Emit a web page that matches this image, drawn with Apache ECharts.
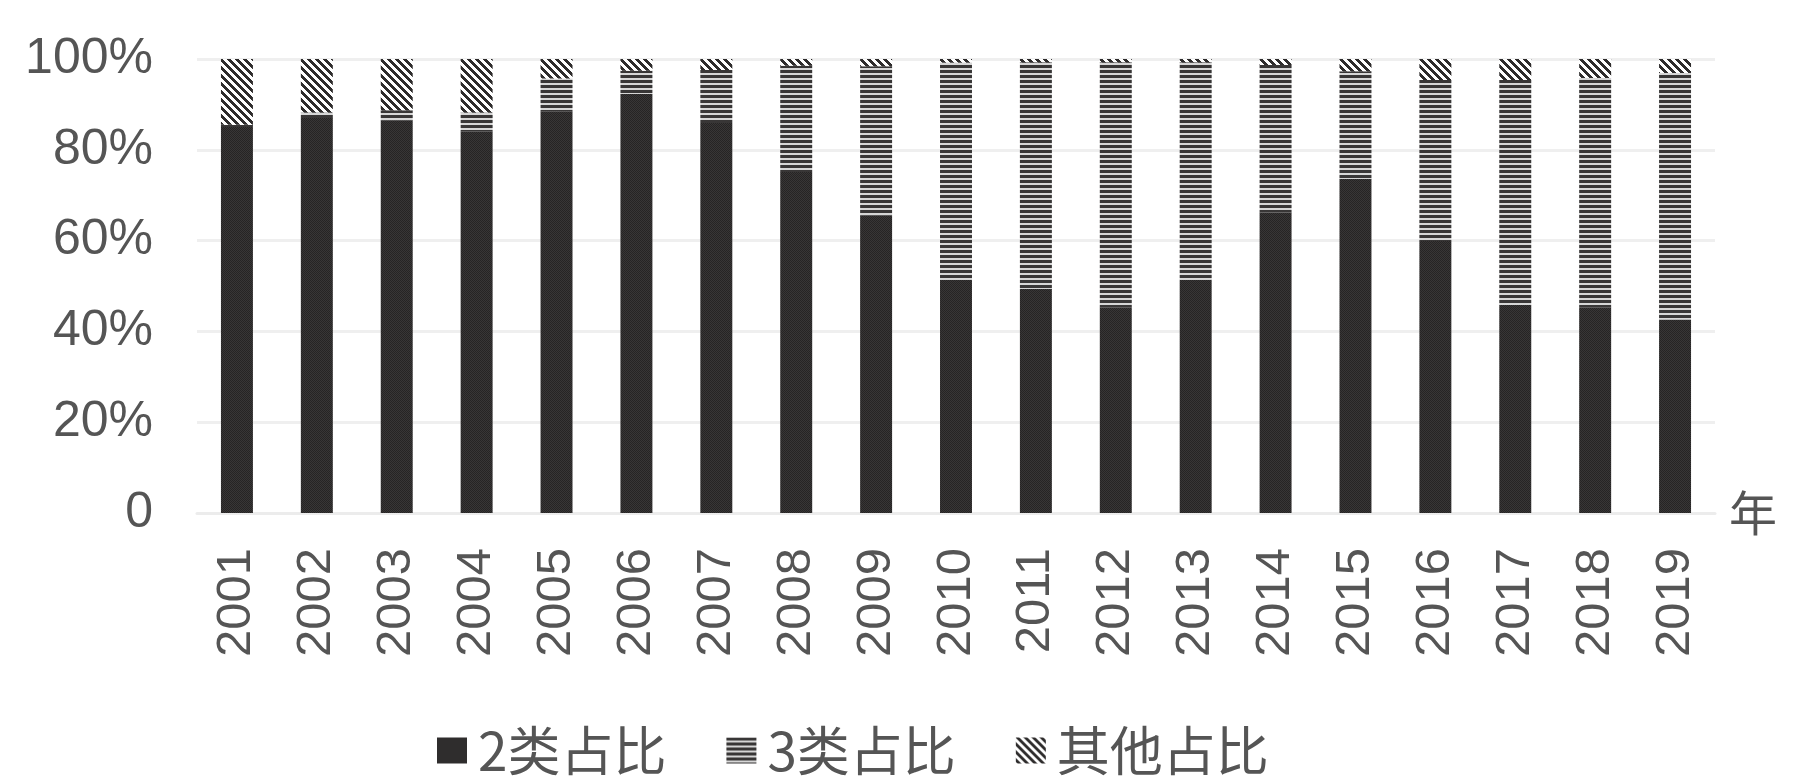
<!DOCTYPE html>
<html>
 <head>
  <meta charset="utf-8">
  <title>2类 3类 其他 占比</title>
  <script src="https://cdn.jsdelivr.net/npm/echarts@6/dist/echarts.min.js"></script>
  <style>
    html, body, #container {
    width: 100%;
    height: 100%;
    margin: 0;
    padding: 0;
    background: #fff;
    }
  </style>
 </head>
  <body>
    <div id="container"></div>
    <script>
      // values, in %
      var years = ['2001', '2002', '2003', '2004', '2005', '2006', '2007', '2008', '2009', '2010',
                   '2011', '2012', '2013', '2014', '2015', '2016', '2017', '2018', '2019'];
      var share2 = [85.0, 87.0, 86.5, 84.0, 88.5, 92.3, 85.9, 75.1, 65.5, 51.4,
                    49.4, 45.2, 51.4, 66.2, 73.6, 59.9, 45.8, 45.2, 42.6];
      var share3 = [0.5, 1.2, 2.2, 4.2, 7.2, 5.1, 11.7, 23.4, 32.9, 47.8,
                    49.9, 54.1, 47.9, 32.5, 23.7, 35.5, 49.6, 50.6, 54.3];
      var shareOther = [14.5, 11.8, 11.3, 11.8, 4.3, 2.6, 2.4, 1.5, 1.6, 0.8,
                        0.7, 0.7, 0.7, 1.3, 2.7, 4.6, 4.6, 4.2, 3.1];
      var seriesNames = ['2类占比', '3类占比', '其他占比'];
      var yTicks = [0, 20, 40, 60, 80, 100];

      // small canvas tiles used as fill patterns
      function tile(w, h, pick) {
        var c = document.createElement('canvas');
        c.width = w; c.height = h;
        var ctx = c.getContext('2d');
        for (var y = 0; y < h; y++) {
          for (var x = 0; x < w; x++) {
            ctx.fillStyle = pick(x, y);
            ctx.fillRect(x, y, 1, 1);
          }
        }
        return c;
      }
      var dotTile = tile(2, 2, function (x, y) {
        return (x + y) % 2 ? '#383636' : '#262424';
      });
      var hLineTile = tile(4, 5, function (x, y) {
        return y < 3 ? '#383636' : '#d6d6d6';
      });
      var diagTile = tile(8, 8, function (x, y) {
        return ((x - y + 16) % 8) < 4 ? '#2e2c2c' : '#ffffff';
      });

      var labelFont = '"Liberation Sans", Arial, sans-serif';
      var cjkFont = '"Noto Sans CJK SC", "Liberation Sans", sans-serif';

      var chartDom = document.getElementById('container');
      var myChart = echarts.init(chartDom);
      var option;

      function bar(name, data, pattern) {
        return {
          name: name,
          type: 'bar',
          stack: 'total',
          barWidth: '40%',
          data: data,
          itemStyle: { color: { image: pattern, repeat: 'repeat' } }
        };
      }

      option = {
        backgroundColor: '#fff',
        animation: false,
        grid: { left: 197, right: 89, top: 59, bottom: 270 },
        legend: {
          left: 432,
          top: 719,
          itemWidth: 30,
          itemHeight: 26,
          itemGap: 60,
          icon: 'rect',
          data: seriesNames,
          textStyle: { fontSize: 53, color: '#555', fontFamily: cjkFont, padding: [0, 0, 0, 6] }
        },
        xAxis: {
          type: 'category',
          data: years,
          name: '年',
          nameLocation: 'end',
          nameGap: 14,
          nameTextStyle: { fontSize: 48, color: '#555', fontFamily: cjkFont, verticalAlign: 'middle' },
          axisLine: { lineStyle: { color: '#ececec', width: 3 } },
          axisTick: { show: false },
          axisLabel: { rotate: 90, margin: 35, fontSize: 49, color: '#555', fontFamily: labelFont }
        },
        yAxis: {
          type: 'value',
          min: yTicks[0],
          max: yTicks[yTicks.length - 1],
          interval: 20,
          axisLine: { show: false },
          axisTick: { show: false },
          splitLine: { lineStyle: { color: '#efefef', width: 3 } },
          axisLabel: {
            margin: 44,
            fontSize: 50,
            color: '#555',
            fontFamily: labelFont,
            formatter: function (v) { return v === 0 ? '0' : v + '%'; }
          }
        },
        series: [
          bar(seriesNames[0], share2, dotTile),
          bar(seriesNames[1], share3, hLineTile),
          bar(seriesNames[2], shareOther, diagTile)
        ]
      };

      option && myChart.setOption(option);
    </script>
  </body>
</html>
